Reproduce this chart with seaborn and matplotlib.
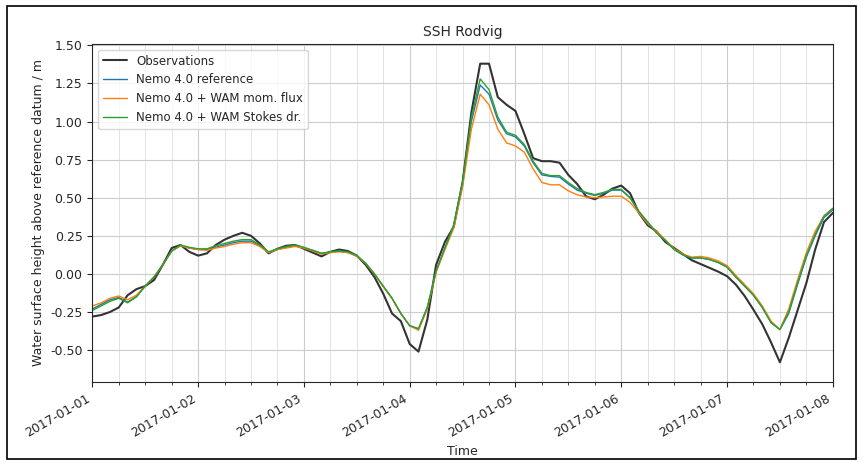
import pandas as pd
import matplotlib.pyplot as plt
import matplotlib.dates as mdates
from matplotlib.patches import Rectangle
import seaborn as sns

# 2-hourly samples, 2017-01-01 00:00 to 2017-01-08 00:00
times = pd.date_range("2017-01-01", "2017-01-08", freq="2h")

observations = [
    -0.28, -0.27, -0.25, -0.22, -0.14, -0.10, -0.08, -0.04, 0.06, 0.17, 0.19, 0.145,
    0.12, 0.135, 0.19, 0.225, 0.25, 0.27, 0.25, 0.20, 0.135, 0.165, 0.185, 0.19,
    0.165, 0.14, 0.115, 0.145, 0.16, 0.15, 0.12, 0.06, -0.02, -0.13, -0.26, -0.31,
    -0.46, -0.51, -0.30, 0.06, 0.21, 0.31, 0.60, 1.06, 1.38, 1.38, 1.16, 1.11,
    1.07, 0.92, 0.76, 0.74, 0.74, 0.73, 0.65, 0.59, 0.51, 0.49, 0.52, 0.56,
    0.58, 0.53, 0.40, 0.32, 0.28, 0.21, 0.17, 0.13, 0.09, 0.065, 0.04, 0.015,
    -0.015, -0.07, -0.145, -0.235, -0.33, -0.45, -0.58, -0.42, -0.24, -0.06, 0.16, 0.34,
    0.40,
]

nemo_ref = [
    -0.23, -0.20, -0.17, -0.155, -0.185, -0.15, -0.08, -0.02, 0.06, 0.15, 0.185, 0.17,
    0.16, 0.16, 0.175, 0.19, 0.205, 0.215, 0.215, 0.185, 0.14, 0.16, 0.175, 0.185,
    0.17, 0.155, 0.135, 0.145, 0.15, 0.14, 0.12, 0.07, 0.0, -0.08, -0.16, -0.26,
    -0.34, -0.36, -0.22, 0.02, 0.17, 0.32, 0.60, 1.00, 1.24, 1.18, 1.01, 0.92,
    0.90, 0.84, 0.73, 0.65, 0.64, 0.635, 0.59, 0.55, 0.53, 0.515, 0.53, 0.55,
    0.55, 0.50, 0.41, 0.34, 0.27, 0.22, 0.16, 0.125, 0.105, 0.105, 0.095, 0.075,
    0.045, -0.02, -0.08, -0.14, -0.22, -0.32, -0.365, -0.26, -0.07, 0.11, 0.25, 0.37,
    0.42,
]

wam_mom_flux = [
    -0.21, -0.19, -0.16, -0.145, -0.17, -0.14, -0.08, -0.02, 0.06, 0.15, 0.185, 0.17,
    0.16, 0.155, 0.17, 0.18, 0.195, 0.205, 0.205, 0.18, 0.14, 0.16, 0.17, 0.18,
    0.17, 0.15, 0.13, 0.14, 0.145, 0.14, 0.115, 0.07, 0.0, -0.085, -0.16, -0.26,
    -0.34, -0.37, -0.23, 0.01, 0.16, 0.30, 0.57, 0.95, 1.18, 1.11, 0.95, 0.86,
    0.84, 0.80, 0.69, 0.60, 0.585, 0.585, 0.545, 0.52, 0.505, 0.50, 0.505, 0.51,
    0.51, 0.47, 0.40, 0.33, 0.28, 0.225, 0.165, 0.13, 0.11, 0.115, 0.105, 0.085,
    0.055, -0.01, -0.07, -0.13, -0.21, -0.31, -0.365, -0.23, -0.04, 0.14, 0.28, 0.38,
    0.43,
]

wam_stokes = [
    -0.24, -0.21, -0.18, -0.16, -0.19, -0.15, -0.08, -0.02, 0.06, 0.15, 0.19, 0.175,
    0.165, 0.165, 0.185, 0.20, 0.215, 0.225, 0.225, 0.19, 0.145, 0.165, 0.18, 0.19,
    0.175, 0.155, 0.135, 0.145, 0.15, 0.145, 0.12, 0.07, 0.0, -0.08, -0.16, -0.26,
    -0.34, -0.36, -0.22, 0.02, 0.17, 0.32, 0.60, 1.03, 1.28, 1.21, 1.03, 0.93,
    0.91, 0.85, 0.74, 0.66, 0.645, 0.645, 0.60, 0.56, 0.535, 0.52, 0.535, 0.555,
    0.555, 0.50, 0.41, 0.34, 0.27, 0.22, 0.16, 0.125, 0.105, 0.105, 0.095, 0.075,
    0.045, -0.02, -0.08, -0.14, -0.22, -0.32, -0.365, -0.25, -0.06, 0.12, 0.26, 0.38,
    0.43,
]

labels = ["Observations", "Nemo 4.0 reference", "Nemo 4.0 + WAM mom. flux",
          "Nemo 4.0 + WAM Stokes dr."]
colors = ["#333333", "#1f77b4", "#ff7f0e", "#2ca02c"]
widths = [1.5, 1.0, 1.0, 1.0]

sns.set_style("ticks")
plt.rcParams["font.family"] = ["DejaVu Sans"]

fig = plt.figure(figsize=(8.63, 4.62), dpi=100)
ax = fig.add_axes([0.107, 0.173, 0.858, 0.732])

for series, lab, col, lw in zip([observations, nemo_ref, wam_mom_flux, wam_stokes],
                                labels, colors, widths):
    sns.lineplot(x=times, y=series, ax=ax, label=lab, color=col, linewidth=lw)

ax.set_xlim(pd.Timestamp("2017-01-01"), pd.Timestamp("2017-01-08"))
ax.set_ylim(-0.71, 1.51)
ax.set_yticks([-0.5, -0.25, 0.0, 0.25, 0.5, 0.75, 1.0, 1.25, 1.5])
ax.yaxis.set_major_formatter(plt.FormatStrFormatter("%.2f"))
ax.xaxis.set_major_locator(mdates.DayLocator())
ax.xaxis.set_minor_locator(mdates.HourLocator(byhour=[6, 12, 18]))
ax.xaxis.set_major_formatter(mdates.DateFormatter("%Y-%m-%d"))
for lab in ax.get_xticklabels():
    lab.set_rotation(30)
    lab.set_ha("right")
ax.tick_params(labelsize=9)

ax.grid(which="major", color="#cccccc", linewidth=0.8)
ax.grid(which="minor", axis="x", color="#e3e3e3", linewidth=0.7)

ax.set_title("SSH Rodvig", fontsize=10)
ax.set_xlabel("Time", fontsize=9)
ax.set_ylabel("Water surface height above reference datum / m", fontsize=9)
ax.legend(loc="upper left", fontsize=8.5, frameon=True)

fig.patches.append(Rectangle((0.008, 0.006), 0.984, 0.982, transform=fig.transFigure,
                             fill=False, edgecolor="black", linewidth=1.2))

fig.savefig("out.png", dpi=100)
